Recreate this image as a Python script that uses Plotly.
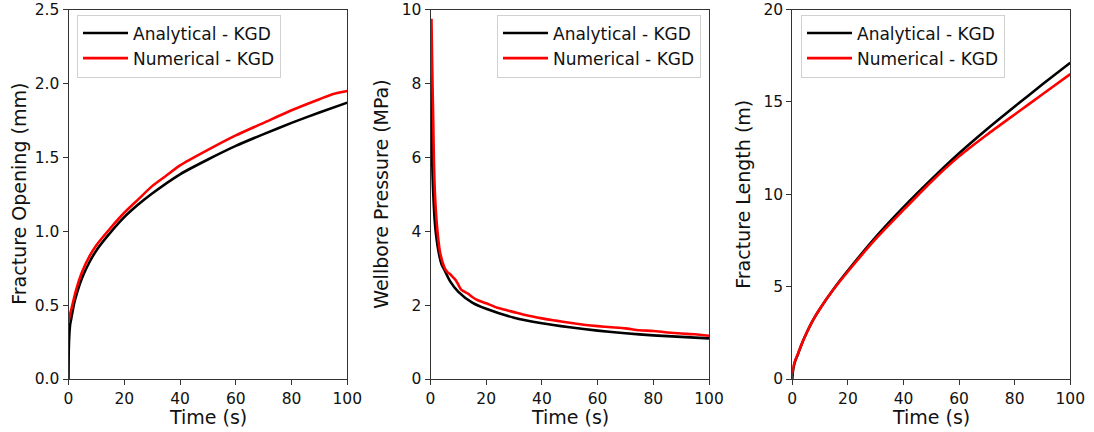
import plotly.graph_objects as go

# Fracture opening (mm)
t_open_ana = [0, 0.1, 0.3, 0.6, 1, 2, 3, 5, 7.5, 10, 15, 20, 25, 30, 40, 50, 60, 70, 80, 90, 100]
w_ana = [0, 0.2, 0.3, 0.37, 0.41, 0.51, 0.58, 0.69, 0.79, 0.87, 0.99, 1.095, 1.18, 1.255, 1.385, 1.485, 1.577, 1.657, 1.733, 1.803, 1.87]
t_open_num = [0, 0.3, 1, 2, 3, 5, 7.5, 10, 15, 20, 25, 30, 35, 40, 50, 60, 70, 80, 90, 95, 100]
w_num = [0.38, 0.42, 0.47, 0.55, 0.62, 0.73, 0.83, 0.905, 1.02, 1.125, 1.215, 1.305, 1.375, 1.445, 1.55, 1.648, 1.733, 1.818, 1.893, 1.928, 1.948]

# Wellbore pressure (MPa)
t_p_ana = [0.15, 0.3, 0.5, 0.75, 1, 1.5, 2, 3, 4, 5, 7, 10, 15, 20, 30, 40, 50, 60, 70, 80, 90, 100]
p_ana = [8.7, 7.4, 6.3, 5.5, 5.0, 4.3, 3.9, 3.4, 3.1, 2.95, 2.65, 2.36, 2.07, 1.9, 1.66, 1.51, 1.40, 1.31, 1.24, 1.18, 1.14, 1.10]
t_p_num = [0.35, 0.5, 0.72, 1.0, 1.2, 1.6, 2.5, 3.5, 5, 6, 7, 8, 9, 10, 11, 12, 13.5, 15, 17, 20, 24, 28, 30, 34, 40,
           45, 50, 55, 60, 65, 70, 75, 80, 85, 90, 95, 100]
p_num = [9.75, 9.0, 8.0, 6.9, 6.0, 5.0, 4.0, 3.4, 3.02, 2.9, 2.84, 2.76, 2.68, 2.55, 2.42, 2.37, 2.31, 2.22, 2.13, 2.05, 1.93,
         1.85, 1.81, 1.73, 1.64, 1.58, 1.52, 1.47, 1.43, 1.40, 1.37, 1.32, 1.30, 1.26, 1.23, 1.21, 1.17]

# Fracture length (m)
t_len = [0, 0.3, 1, 2, 3.4, 5, 7.5, 10, 15, 20, 30, 40, 50, 60, 70, 80, 90, 100]
L_ana = [0, 0.5, 0.95, 1.33, 1.9, 2.45, 3.2, 3.82, 4.9, 5.87, 7.68, 9.3, 10.8, 12.22, 13.52, 14.75, 15.95, 17.12]
L_num = [0.3, 0.6, 0.98, 1.35, 1.9, 2.45, 3.2, 3.82, 4.88, 5.82, 7.58, 9.15, 10.68, 12.05, 13.22, 14.32, 15.41, 16.5]

series_names = ["Analytical - KGD", "Numerical - KGD"]
x_title = "Time (s)"
y_titles = ["Fracture Opening (mm)", "Wellbore Pressure (MPa)", "Fracture Length (m)"]
y_ranges = [[0, 2.5], [0, 10], [0, 20]]
y_ticks = [[0, 0.5, 1.0, 1.5, 2.0, 2.5], [0, 2, 4, 6, 8, 10], [0, 5, 10, 15, 20]]
y_tickfmt = [".1f", "d", "d"]
x_ticks = [0, 20, 40, 60, 80, 100]

W, H = 1094, 432
x_px = [(68.5, 347.3), (430.5, 709.0), (792.3, 1070.3)]
y_px = (9.5, 379.0)
ytitle_x_px = [19.5, 381.5, 743.5]

panels = [
    (t_open_ana, w_ana, t_open_num, w_num),
    (t_p_ana, p_ana, t_p_num, p_num),
    (t_len, L_ana, t_len, L_num),
]

FONT = "DejaVu Sans"
TXT = "#111111"
fig = go.Figure()
legend_ids = ["legend", "legend2", "legend3"]

for i, (ta, ya, tn, yn) in enumerate(panels):
    xa = "x" if i == 0 else f"x{i+1}"
    ya_id = "y" if i == 0 else f"y{i+1}"
    fig.add_trace(go.Scatter(x=ta, y=ya, mode="lines", name=series_names[0],
                             line=dict(color="black", width=2.6, shape="spline", smoothing=0.6),
                             xaxis=xa, yaxis=ya_id, legend=legend_ids[i]))
    fig.add_trace(go.Scatter(x=tn, y=yn, mode="lines", name=series_names[1],
                             line=dict(color="red", width=2.6, shape="spline", smoothing=0.6),
                             xaxis=xa, yaxis=ya_id, legend=legend_ids[i]))

layout = dict(
    width=W, height=H,
    margin=dict(l=0, r=0, t=0, b=0, autoexpand=False),
    paper_bgcolor="white", plot_bgcolor="white",
    font=dict(family=FONT, color="black", size=15),
    showlegend=True,
)

axis_common = dict(showline=True, linecolor="#333333", linewidth=1, mirror=True,
                   ticks="outside", ticklen=5, tickwidth=1, tickcolor="#333333",
                   showgrid=False, zeroline=False, automargin=False,
                   tickfont=dict(family=FONT, size=15.5, color=TXT))

annotations = []
for i in range(3):
    xk = "xaxis" if i == 0 else f"xaxis{i+1}"
    yk = "yaxis" if i == 0 else f"yaxis{i+1}"
    x0, x1 = x_px[i]
    layout[xk] = dict(axis_common, domain=[x0 / W, x1 / W], range=[0, 100],
                      tickvals=x_ticks, anchor="y" if i == 0 else f"y{i+1}")
    layout[yk] = dict(axis_common, domain=[1 - y_px[1] / H, 1 - y_px[0] / H], range=y_ranges[i],
                      tickvals=y_ticks[i], tickformat=y_tickfmt[i],
                      anchor="x" if i == 0 else f"x{i+1}")
    # axis titles
    annotations.append(dict(text=x_title, xref="paper", yref="paper",
                            x=(x0 + x1) / 2 / W, y=1 - 416.5 / H, xanchor="center", yanchor="middle",
                            showarrow=False, font=dict(family=FONT, size=19, color=TXT)))
    annotations.append(dict(text=y_titles[i], xref="paper", yref="paper", textangle=-90,
                            x=ytitle_x_px[i] / W, y=1 - (y_px[0] + y_px[1]) / 2 / H,
                            xanchor="center", yanchor="middle",
                            showarrow=False, font=dict(family=FONT, size=19, color=TXT)))
layout["annotations"] = annotations

legend_left = [77, 497, 801]
for i, lid in enumerate(legend_ids):
    layout[lid] = dict(x=legend_left[i] / W, y=1 - 14.5 / H, xanchor="left", yanchor="top",
                       bgcolor="rgba(255,255,255,0.8)", bordercolor="#d0d0d0", borderwidth=1,
                       font=dict(family=FONT, size=17, color=TXT),
                       tracegroupgap=0, itemwidth=45)

fig.update_layout(**layout)
fig.write_html("out.html")
